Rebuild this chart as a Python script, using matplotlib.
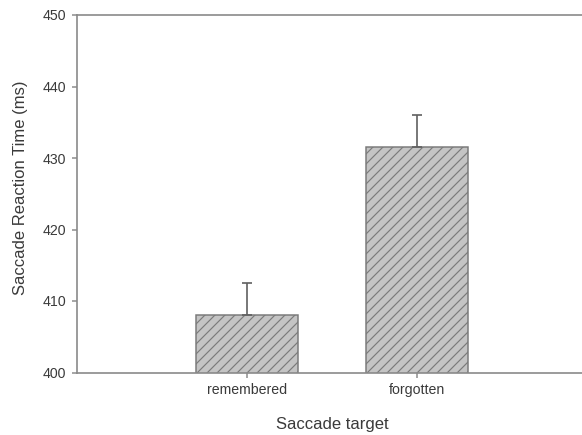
import matplotlib
matplotlib.use("Agg")
import matplotlib.pyplot as plt

# Mean saccade reaction times with upper standard-error bars
categories = ["remembered", "forgotten"]
means = [408.1, 431.5]
errors_upper = [4.4, 4.5]

y_ticks = [400, 410, 420, 430, 440, 450]

plt.rcParams["font.family"] = ["Liberation Sans", "DejaVu Sans"]
plt.rcParams["hatch.linewidth"] = 0.7
plt.rcParams["hatch.color"] = "#5e5e5e"

DPI = 120
fig = plt.figure(figsize=(582 / DPI, 435 / DPI), dpi=DPI)
ax = fig.add_axes([77 / 582, 1 - 372.5 / 435, (587 - 77) / 582, (372.5 - 15) / 435])

axis_grey = "#8a8a8a"
text_grey = "#3a3a3a"

x = list(range(len(categories)))
ax.bar(x, means, width=0.6, bottom=0, color="#c4c4c4", edgecolor="#7a7a7a",
       linewidth=0.9, hatch="////", zorder=2)
ax.errorbar(x, means, yerr=[[0] * len(means), errors_upper], fmt="none",
            ecolor="#606060", elinewidth=1.0, capsize=2.8, capthick=1.0, zorder=3)

ax.set_xlim(-1, 2)
ax.set_ylim(400, 450)
ax.set_yticks(y_ticks)
ax.set_xticks(x)
ax.set_xticklabels(categories)

for side in ["left", "bottom", "top", "right"]:
    ax.spines[side].set_color(axis_grey)
    ax.spines[side].set_linewidth(1.0)

ax.tick_params(axis="both", direction="out", length=3, width=0.9, color=axis_grey,
               labelsize=8.5, labelcolor=text_grey, pad=3.5)

ax.set_xlabel("Saccade target", fontsize=10, color=text_grey, labelpad=12)
ax.set_ylabel("Saccade Reaction Time (ms)", fontsize=10, color=text_grey)
ax.yaxis.set_label_coords(-0.097, 0.517)

fig.savefig("out.png", dpi=DPI)
